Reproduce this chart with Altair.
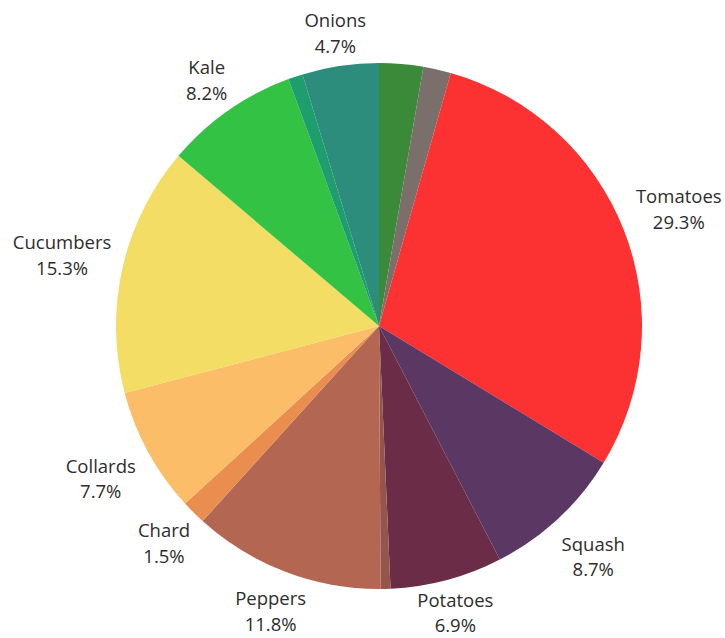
import altair as alt
import pandas as pd

categories = ["Green", "Gray", "Tomatoes", "Squash", "Potatoes", "Brown", "Peppers",
              "Chard", "Collards", "Cucumbers", "Kale", "Teal", "Onions"]
values = [2.7, 1.7, 29.3, 8.7, 6.9, 0.6, 11.8, 1.5, 7.7, 15.3, 8.2, 0.9, 4.7]
labels = ["", "", "Tomatoes\n29.3%", "Squash\n8.7%", "Potatoes\n6.9%", "", "Peppers\n11.8%",
          "Chard\n1.5%", "Collards\n7.7%", "Cucumbers\n15.3%", "Kale\n8.2%", "", "Onions\n4.7%"]
colors = ["#3b8a3a", "#7b6f6c", "#fc3131", "#5b3763", "#6a2c47", "#95544c", "#b36651",
          "#e98e4f", "#fbbd67", "#f3dd65", "#33c244", "#1e9e6e", "#2d8d7c"]

# label distance from the pie centre (layout only)
label_radius = {"Tomatoes": 322, "Squash": 314, "Potatoes": 296, "Peppers": 304,
                "Chard": 305, "Collards": 317, "Cucumbers": 325, "Kale": 301, "Onions": 297}

df = pd.DataFrame({"cat": categories, "value": values, "label": labels,
                   "idx": list(range(len(categories)))})

CX, CY, R = 379, 326, 263

base = alt.Chart(df).encode(
    theta=alt.Theta("value:Q", stack=True),
    order=alt.Order("idx:Q"),
    x=alt.value(CX),
    y=alt.value(CY),
)

pie = base.mark_arc(radius=R).encode(
    color=alt.Color("cat:N", scale=alt.Scale(domain=categories, range=colors), legend=None)
)

layers = [pie]
for name, rad in label_radius.items():
    t = base.mark_text(radius=rad, dy=-11, font="Open Sans", fontSize=18.5, lineHeight=25.5,
                       color="#2d2d2d", align="center", baseline="middle",
                       lineBreak="\n").encode(
        text=alt.condition(alt.datum.cat == name, "label:N", alt.value(""))
    )
    layers.append(t)

chart = alt.layer(*layers).properties(
    width=725, height=638, padding=0, autosize=alt.AutoSizeParams(type="none")
).configure_view(stroke=None)

chart.save("out.html", embed_options={"renderer": "svg", "actions": False})
